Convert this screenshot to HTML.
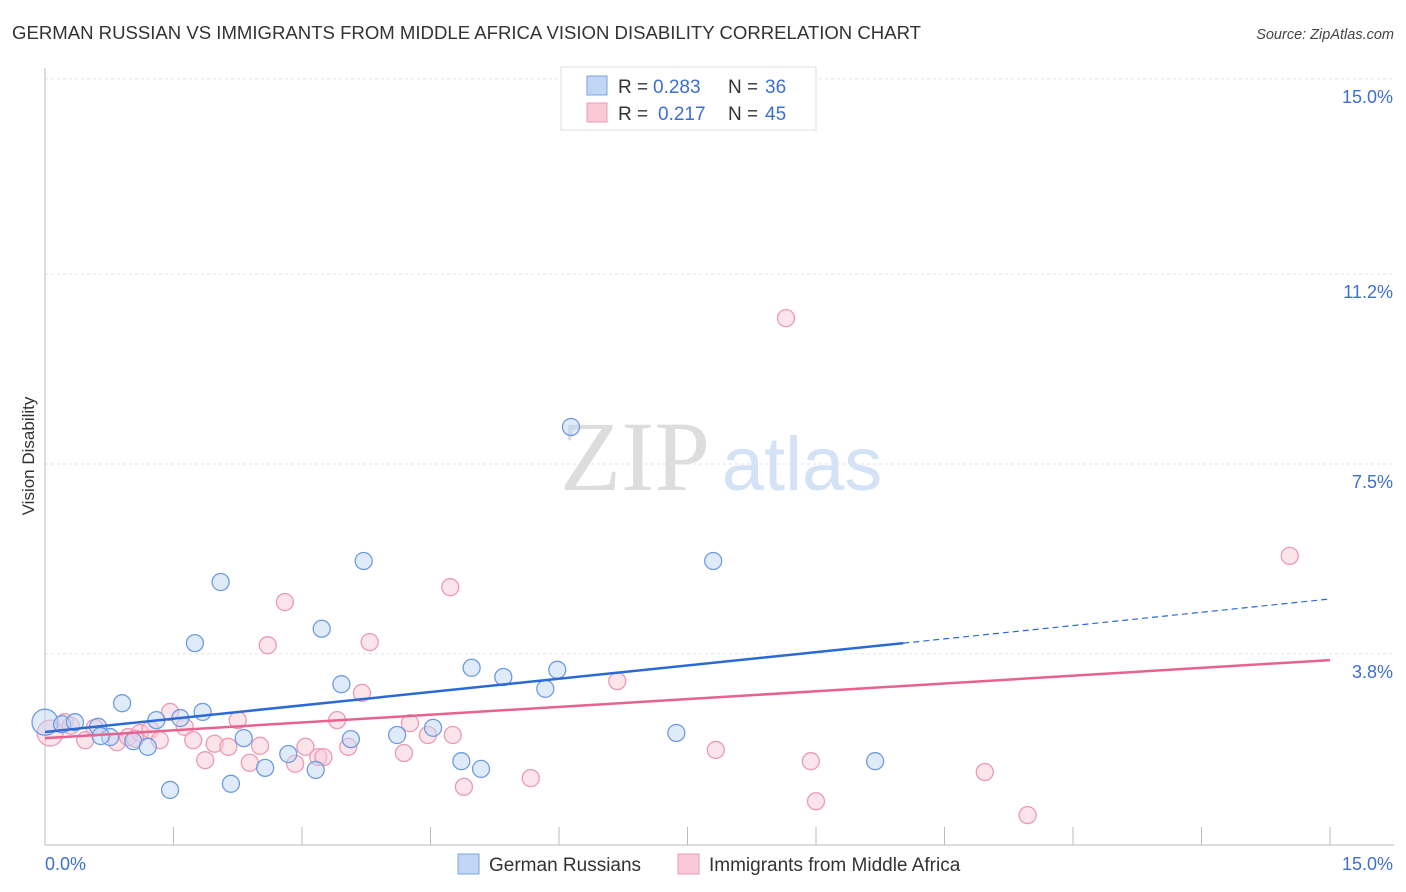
<!DOCTYPE html>
<html><head><meta charset="utf-8">
<style>
body{margin:0;background:#fff;font-family:"Liberation Sans",sans-serif;}
svg{display:block}
</style></head><body>
<svg id="chart" width="1406" height="892" xmlns="http://www.w3.org/2000/svg">
<text x="12" y="39" font-size="18.5" fill="#333" textLength="909" lengthAdjust="spacingAndGlyphs">GERMAN RUSSIAN VS IMMIGRANTS FROM MIDDLE AFRICA VISION DISABILITY CORRELATION CHART</text>
<text x="1394" y="39" font-size="14.5" fill="#444" font-style="italic" text-anchor="end">Source: ZipAtlas.com</text>
<text transform="translate(34,456) rotate(-90)" font-size="17" fill="#333" text-anchor="middle">Vision Disability</text>
<g>
<text x="635" y="490" font-size="100" fill="#ddd" font-family="Liberation Serif" text-anchor="middle">ZIP</text>
<text x="802" y="490" font-size="76" fill="#d4e2f5" text-anchor="middle">atlas</text>
</g>
<g id="grid"></g><g id="axes"></g><g id="marks"></g>
<g>
<rect x="561" y="67" width="255" height="63" fill="#fff" stroke="#ddd"/>
<rect x="587" y="76" width="20" height="19" fill="#c2d7f5" stroke="#7aa5e0"/>
<rect x="587" y="103" width="20" height="19" fill="#f9c9d7" stroke="#ec9ab4"/>
<text x="618" y="93" font-size="19" fill="#333">R =</text>
<text x="653" y="93" font-size="19" fill="#3d6fd0">0.283</text>
<text x="728" y="93" font-size="19" fill="#333">N =</text>
<text x="765" y="93" font-size="19" fill="#3d6fd0">36</text>
<text x="618" y="120" font-size="19" fill="#333">R =</text>
<text x="658" y="120" font-size="19" fill="#3d6fd0">0.217</text>
<text x="728" y="120" font-size="19" fill="#333">N =</text>
<text x="765" y="120" font-size="19" fill="#3d6fd0">45</text>
</g>
<g>
<rect x="458" y="854" width="21" height="20" fill="#c2d7f5" stroke="#7aa5e0"/>
<text x="489" y="871" font-size="19" fill="#333">German Russians</text>
<rect x="678" y="854" width="21" height="20" fill="#f9c9d7" stroke="#ec9ab4"/>
<text x="709" y="871" font-size="19" fill="#333">Immigrants from Middle Africa</text>
</g>
</svg>
<script>
const yTicks=[3.8,7.5,11.2,15.0];
const yTickLabels=["3.8%","7.5%","11.2%","15.0%"];
const blueX=[0.00,0.20,0.35,0.62,0.76,0.90,1.03,1.20,1.30,1.46,1.58,1.75,1.84,2.05,2.17,2.32,2.57,2.84,3.16,3.23,3.46,3.57,3.72,4.11,4.53,4.86,4.98,5.09,5.35,5.84,5.98,6.14,7.37,7.80,9.69,0.65];
const blueY=[2.47,2.43,2.47,2.38,2.18,2.84,2.10,1.99,2.51,1.15,2.55,4.01,2.67,5.20,1.27,2.16,1.58,1.85,1.54,4.29,3.21,2.14,5.61,2.22,2.36,1.71,3.53,1.56,3.35,3.12,3.49,8.22,2.26,5.61,1.71,2.20];
const pinkX=[0.06,0.23,0.47,0.58,0.84,0.97,1.11,1.23,1.34,1.46,1.63,1.73,1.87,1.98,2.14,2.25,2.39,2.51,2.60,2.80,2.92,3.04,3.19,3.41,3.54,3.70,3.79,4.19,4.26,4.47,4.73,4.76,4.89,5.67,6.68,7.83,8.65,8.94,9.00,10.97,11.47,14.53,0.30,3.25,1.05];
const pinkY=[2.26,2.47,2.12,2.36,2.08,2.18,2.26,2.32,2.12,2.67,2.38,2.12,1.73,2.05,1.99,2.51,1.68,2.01,3.97,4.81,1.66,1.99,1.79,2.51,1.99,3.04,4.03,1.87,2.45,2.22,5.10,2.22,1.21,1.38,3.27,1.93,10.34,1.71,0.93,1.50,0.66,5.71,2.40,1.79,2.15];
const blueTrend=[2.28,4.87], blueSolidEnd=10.02;
const pinkTrend=[2.16,3.68];
const X0=45,X1=1330,Ypx0=849,pxPer=51.34;
const sx=v=>X0+(X1-X0)*v/15, sy=v=>Ypx0-v*pxPer;
const NS="http://www.w3.org/2000/svg";
function mk(tag,attrs,parent,txt){const e=document.createElementNS(NS,tag);for(const k in attrs)e.setAttribute(k,attrs[k]);if(txt!==undefined)e.textContent=txt;document.getElementById(parent).appendChild(e);return e;}
yTicks.forEach((t,i)=>{
 const g=mk('line',{x1:45,x2:1394,y1:sy(t),y2:sy(t),stroke:'#e2e2e2','stroke-dasharray':'3,3'},'grid');
 
 
 const l=mk('text',{x:1393,y:sy(t)+24,'font-size':18,fill:'#3d6fd0','text-anchor':'end'},'axes',yTickLabels[i]);
 
 
});
let a=mk('line',{x1:45,x2:45,y1:68,y2:845,stroke:'#bbb'},'axes');


a=mk('line',{x1:45,x2:1394,y1:845,y2:845,stroke:'#bbb'},'axes');


for(let i=1;i<=10;i++){const t=mk('line',{x1:sx(i*1.5),x2:sx(i*1.5),y1:827,y2:845,stroke:'#bbb'},'axes');
 
 }
a=mk('text',{x:45,y:870,'font-size':18,fill:'#3d6fd0'},'axes','0.0%');


a=mk('text',{x:1393,y:870,'font-size':18,fill:'#3d6fd0','text-anchor':'end'},'axes','15.0%');


function pts(X,Y,fill,stroke,name){X.forEach((x,i)=>{const c=mk('circle',{cx:sx(x),cy:sy(Y[i]),r:(i===0?13:8.5),fill:fill,'fill-opacity':0.5,stroke:stroke,'stroke-width':1.3},'marks');
 
 });}
pts(pinkX,pinkY,'#f9c9d7','#ec9ab4','pink-point');
pts(blueX,blueY,'#c2d7f5','#6f9ce0','blue-point');
const bAt=x=>blueTrend[0]+(blueTrend[1]-blueTrend[0])*x/15;
let l=mk('line',{x1:sx(0),y1:sy(bAt(0)),x2:sx(blueSolidEnd),y2:sy(bAt(blueSolidEnd)),stroke:'#2b6ad6','stroke-width':2.5},'marks');


l=mk('line',{x1:sx(blueSolidEnd),y1:sy(bAt(blueSolidEnd)),x2:sx(15),y2:sy(bAt(15)),stroke:'#2b6ad6','stroke-width':1.2,'stroke-dasharray':'6,4'},'marks');


l=mk('line',{x1:sx(0),y1:sy(pinkTrend[0]),x2:sx(15),y2:sy(pinkTrend[1]),stroke:'#e8628f','stroke-width':2.5},'marks');


</script>
</body></html>
